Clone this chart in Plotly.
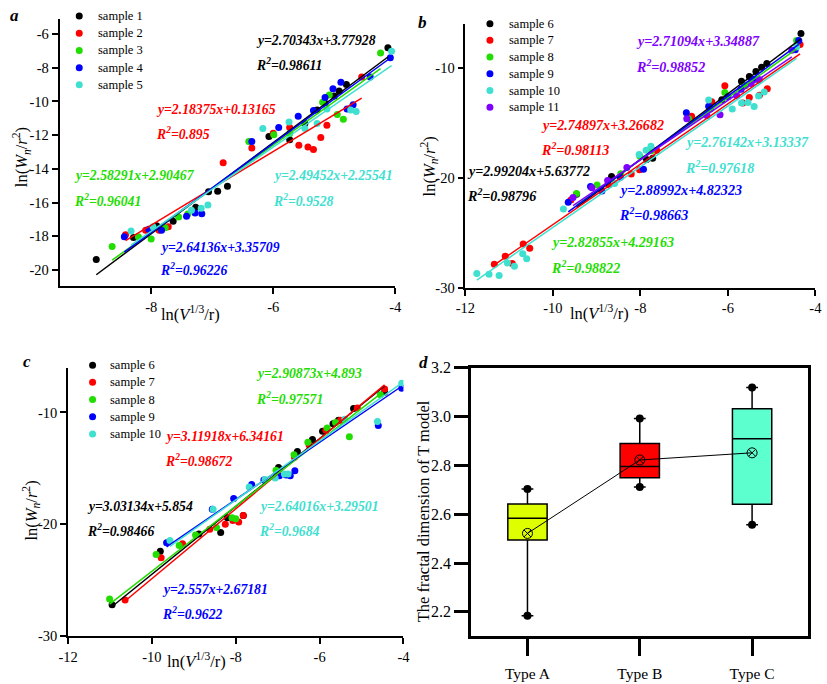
import plotly.graph_objects as go
import numpy as np

W, H = 827, 684
FONT = "Liberation Serif"


def px(x):
    return x / W


def py(y):
    return 1 - y / H


# ---------------- panel a data ----------------
a_names = ["sample 1", "sample 2", "sample 3", "sample 4", "sample 5"]
a_s1_x = [-8.90, -8.29, -7.91, -7.64, -7.27, -7.06, -6.91, -6.75, -6.07, -5.73, -5.48, -5.28, -5.15, -5.00, -4.92, -4.80, -4.12]
a_s1_y = [-19.38, -18.07, -17.38, -17.10, -16.27, -15.36, -15.32, -15.03, -12.08, -12.27, -11.31, -10.50, -10.10, -9.67, -9.38, -8.99, -6.81]
a_s2_x = [-8.42, -8.09, -7.87, -7.72, -6.82, -6.35, -6.00, -5.73, -5.58, -5.43, -5.34, -5.22, -5.12, -4.55]
a_s2_y = [-17.91, -17.64, -17.64, -17.43, -13.63, -12.76, -11.89, -11.54, -12.60, -12.70, -12.85, -12.14, -11.41, -8.55]
a_s3_x = [-8.64, -8.21, -8.00, -7.77, -7.55, -7.40, -6.40, -5.99, -5.73, -5.19, -5.08, -4.95, -4.85, -4.24]
a_s3_y = [-18.60, -18.03, -18.16, -17.49, -16.85, -16.68, -12.37, -11.98, -11.90, -10.05, -9.61, -10.77, -11.06, -7.12]
a_s4_x = [-8.44, -8.04, -7.83, -7.42, -7.28, -7.17, -6.35, -5.91, -5.59, -5.34, -5.15, -5.02, -4.89, -4.79, -4.69, -4.41, -4.08]
a_s4_y = [-18.03, -17.58, -17.64, -16.81, -16.62, -16.66, -12.37, -11.54, -10.88, -10.54, -9.76, -9.24, -8.86, -10.44, -10.19, -8.55, -7.41]
a_s5_x = [-8.33, -7.97, -7.34, -7.18, -7.07, -6.17, -5.74, -5.48, -5.28, -5.12, -4.73, -4.64, -4.06]
a_s5_y = [-17.68, -17.43, -16.46, -16.33, -16.14, -11.60, -11.21, -11.60, -11.31, -10.44, -10.50, -10.59, -7.02]
a_slopes = [2.70343, 2.18375, 2.58291, 2.64136, 2.49452]
a_intercepts = [3.77928, 0.13165, 2.90467, 3.35709, 2.25541]
a_r2 = [0.98611, 0.895, 0.96041, 0.96226, 0.9528]

# ---------------- panel b data ----------------
b_names = ["sample 6", "sample 7", "sample 8", "sample 9", "sample 10", "sample 11"]
b_s6_x = [-9.46, -8.66, -7.86, -7.72, -6.14, -5.69, -5.51, -5.36, -5.23, -5.11, -4.33]
b_s6_y = [-21.47, -19.85, -18.30, -18.20, -12.87, -11.19, -10.74, -10.30, -9.91, -9.56, -6.83]
b_s7_x = [-11.34, -11.09, -10.93, -10.68, -10.53, -9.59, -8.72, -8.21, -8.02, -7.63, -6.83, -6.37, -6.07, -5.66, -5.51, -5.28, -5.10, -4.35]
b_s7_y = [-27.84, -27.10, -27.78, -26.00, -26.39, -22.00, -20.60, -19.63, -19.24, -17.47, -14.36, -13.05, -11.60, -13.17, -12.67, -12.46, -11.87, -7.84]
b_s8_x = [-9.46, -8.99, -8.45, -8.01, -7.75, -6.90, -6.40, -6.07, -5.60, -5.30, -4.43]
b_s8_y = [-21.40, -20.62, -19.60, -18.00, -17.50, -14.60, -13.70, -12.20, -11.60, -11.10, -7.48]
b_s9_x = [-9.65, -9.14, -8.88, -8.46, -7.93, -6.95, -6.44, -6.00, -5.70, -5.40, -4.46, -4.38]
b_s9_y = [-22.20, -20.76, -21.17, -19.93, -19.19, -14.06, -13.45, -12.60, -11.90, -11.00, -8.31, -7.48]
b_s10_x = [-11.74, -11.46, -11.23, -11.04, -10.88, -10.69, -10.60, -9.76, -8.59, -8.03, -7.87, -7.76, -6.44, -5.90, -5.69, -5.54, -5.40, -5.30, -5.17, -4.43]
b_s10_y = [-28.67, -28.76, -28.87, -27.72, -28.01, -26.89, -27.33, -22.80, -20.50, -17.85, -17.47, -17.10, -12.90, -13.70, -13.17, -13.11, -13.47, -12.52, -12.16, -8.07]
b_s11_x = [-9.54, -9.11, -8.75, -8.31, -6.94, -6.48, -6.18, -5.80, -5.47, -5.28, -4.54]
b_s11_y = [-21.76, -20.87, -20.22, -19.04, -14.59, -14.30, -14.24, -12.50, -11.39, -11.04, -8.37]
b_slopes = [2.99204, 2.74897, 2.82855, 2.88992, 2.76142, 2.71094]
b_intercepts = [5.63772, 3.26682, 4.29163, 4.82323, 3.13337, 3.34887]
b_r2 = [0.98796, 0.98113, 0.98822, 0.98663, 0.97618, 0.98852]

# ---------------- panel c data ----------------
c_names = ["sample 6", "sample 7", "sample 8", "sample 9", "sample 10"]
c_s6_x = [-10.95, -9.80, -8.88, -8.36, -8.20, -7.82, -6.98, -6.53, -6.17, -5.93, -5.68, -5.55, -5.19, -4.45]
c_s6_y = [-27.19, -22.41, -20.87, -20.72, -19.42, -19.22, -14.93, -13.48, -12.41, -11.68, -11.01, -10.70, -9.65, -8.20]
c_s7_x = [-10.64, -9.78, -9.27, -8.62, -8.25, -8.07, -7.93, -7.82, -6.60, -6.25, -5.85, -5.50, -5.10, -4.45]
c_s7_y = [-26.75, -22.99, -21.74, -20.43, -20.00, -19.65, -19.80, -19.22, -14.00, -12.90, -11.60, -10.70, -9.60, -7.91]
c_s8_x = [-11.01, -9.90, -9.35, -8.96, -8.46, -8.09, -8.00, -7.04, -6.61, -6.28, -5.82, -5.62, -5.29, -4.55]
c_s8_y = [-26.67, -22.70, -21.88, -20.96, -20.29, -19.42, -19.51, -15.16, -13.77, -12.67, -11.39, -10.90, -12.17, -8.41]
c_s9_x = [-9.65, -8.56, -8.05, -7.62, -7.33, -6.96, -6.80, -6.70, -6.59, -4.60, -4.04]
c_s9_y = [-21.65, -18.64, -17.68, -16.43, -16.03, -15.65, -15.60, -15.65, -15.22, -11.16, -7.83]
c_s10_x = [-9.57, -8.54, -7.68, -7.30, -7.06, -6.84, -6.75, -5.40, -4.62, -4.04]
c_s10_y = [-21.45, -18.64, -16.67, -16.00, -15.86, -15.51, -15.50, -10.60, -10.81, -7.39]
c_slopes = [3.03134, 3.11918, 2.90873, 2.557, 2.64016]
c_intercepts = [5.854, 6.34161, 4.893, 2.67181, 3.29501]
c_r2 = [0.98466, 0.98672, 0.97571, 0.9622, 0.9684]

# ---------------- panel d data ----------------
d_types = ["Type A", "Type B", "Type C"]
d_values = [a_slopes, b_slopes, c_slopes]

scatter_ticks = [-30, -20, -10]
a_yticks = [-20, -18, -16, -14, -12, -10, -8, -6]
a_xticks = [-8, -6, -4]
bc_xticks = [-12, -10, -8, -6, -4]
d_yticks = [2.2, 2.4, 2.6, 2.8, 3.0, 3.2]

# ---------------- styles ----------------
COLORS5 = ["#000000", "#FF0000", "#22DD00", "#0000FF", "#40E0D0"]
COLORS6 = ["#000000", "#FF0000", "#22DD00", "#0000FF", "#40E0D0", "#8000FF"]
BOX_COLORS = ["#DDFF00", "#FF0000", "#5CFFCE"]

fig = go.Figure()


def add_panel(names, xs, ys, slopes, intercepts, colors, xa, ya):
    for n, x, y, c in zip(names, xs, ys, colors):
        fig.add_trace(go.Scatter(x=x, y=y, mode="markers", name=n,
                                 marker=dict(color=c, size=7),
                                 showlegend=False, xaxis=xa, yaxis=ya))
    for n, x, s, b, c in zip(names, xs, slopes, intercepts, colors):
        xr = np.array([min(x), max(x)])
        fig.add_trace(go.Scatter(x=xr, y=s * xr + b, mode="lines",
                                 name=n + " fit",
                                 line=dict(color=c, width=1.5),
                                 showlegend=False, hoverinfo="skip",
                                 xaxis=xa, yaxis=ya))


add_panel(a_names, [a_s1_x, a_s2_x, a_s3_x, a_s4_x, a_s5_x],
          [a_s1_y, a_s2_y, a_s3_y, a_s4_y, a_s5_y],
          a_slopes, a_intercepts, COLORS5, "x", "y")
add_panel(b_names, [b_s6_x, b_s7_x, b_s8_x, b_s9_x, b_s10_x, b_s11_x],
          [b_s6_y, b_s7_y, b_s8_y, b_s9_y, b_s10_y, b_s11_y],
          b_slopes, b_intercepts, COLORS6, "x2", "y2")
add_panel(c_names, [c_s6_x, c_s7_x, c_s8_x, c_s9_x, c_s10_x],
          [c_s6_y, c_s7_y, c_s8_y, c_s9_y, c_s10_y],
          c_slopes, c_intercepts, COLORS5, "x3", "y3")


# panel d: box statistics from the fitted slopes
def quartiles(v):
    s = sorted(v)
    n = len(s)
    if n % 2:
        lower, upper = s[:n // 2 + 1], s[n // 2:]
    else:
        lower, upper = s[:n // 2], s[n // 2:]
    return float(np.median(lower)), float(np.median(s)), float(np.median(upper))


d_min, d_max, d_mean = [], [], []
for t, v, col in zip(d_types, d_values, BOX_COLORS):
    q1, med, q3 = quartiles(v)
    d_min.append(min(v))
    d_max.append(max(v))
    d_mean.append(float(np.mean(v)))
    fig.add_trace(go.Box(x=[t], q1=[q1], median=[med], q3=[q3],
                         lowerfence=[min(v)], upperfence=[max(v)], name=t,
                         fillcolor=col, line=dict(color="black", width=1.5),
                         width=0.35, whiskerwidth=0.3, boxpoints=False,
                         showlegend=False, xaxis="x4", yaxis="y4"))
fig.add_trace(go.Scatter(x=d_types + d_types, y=d_min + d_max, mode="markers",
                         name="min / max",
                         marker=dict(color="black", size=8), showlegend=False,
                         xaxis="x4", yaxis="y4"))
fig.add_trace(go.Scatter(x=d_types, y=d_mean, mode="lines+markers", name="mean",
                         line=dict(color="black", width=1),
                         marker=dict(symbol="circle-x-open", size=10, color="black",
                                     line=dict(width=1)),
                         showlegend=False, xaxis="x4", yaxis="y4"))

# ---------------- layout ----------------
tickfont = dict(family=FONT, size=14.5, color="black")


def sc_axis(domain, rng, ticks, anchor):
    return dict(domain=domain, range=rng, tickvals=ticks,
                ticktext=[f"{t:g}" for t in ticks], showline=True,
                linecolor="black", linewidth=1.8, ticks="outside", ticklen=6,
                tickwidth=1.5, tickcolor="black", showgrid=False,
                zeroline=False, tickfont=tickfont, anchor=anchor)


layout = dict(
    width=W, height=H, margin=dict(l=0, r=0, t=0, b=0),
    paper_bgcolor="white", plot_bgcolor="white", boxmode="overlay",
    showlegend=False,
    font=dict(family=FONT, color="black"),
    xaxis=sc_axis([px(50.7), px(393.3)], [-9.5, -4], a_xticks, "y"),
    yaxis=sc_axis([py(285), py(11.7)], [-20.97, -5.13], a_yticks, "x"),
    xaxis2=sc_axis([px(465), px(822.3)], [-12, -4], bc_xticks, "y2"),
    yaxis2=sc_axis([py(286.7), py(16.7)], [-30, -6], scatter_ticks, "x2"),
    xaxis3=sc_axis([px(59.3), px(401.7)], [-12, -4], bc_xticks, "y3"),
    yaxis3=sc_axis([py(643.3), py(368.3)], [-30, -6], scatter_ticks, "x3"),
    xaxis4=dict(domain=[px(471), px(815)], type="category", range=[-0.5, 2.5],
                categoryorder="array", categoryarray=d_types,
                showline=True, mirror=True, linecolor="black", linewidth=3,
                ticks="outside", ticklen=17, tickwidth=3, tickcolor="black",
                ticklabelstandoff=4,
                showgrid=False, zeroline=False,
                tickfont=dict(family=FONT, size=15.5, color="black"), anchor="y4"),
    yaxis4=dict(domain=[py(643.3), py(368.3)], range=[2.1, 3.2],
                tickvals=d_yticks, ticktext=[f"{t:.1f}" for t in d_yticks],
                showline=True, mirror=True, linecolor="black", linewidth=3,
                ticks="outside", ticklen=14, tickwidth=3, tickcolor="black",
                showgrid=False, zeroline=False,
                tickfont=dict(family=FONT, size=16, color="black"), anchor="x4"),
)
fig.update_layout(**layout)

ann = []
shapes = []

# hand-placed legends (marker + label) for panels a, b, c
for names, colors, mx, tx, y0, dy in [
        (a_names, COLORS5, 70.7, 88.3, 8.3, 17.6),
        (b_names, COLORS6, 490, 507.7, 16, 17.14),
        (c_names, COLORS5, 84.3, 100, 365.7, 17.6)]:
    for i, (n, c) in enumerate(zip(names, colors)):
        yy = y0 + i * dy
        shapes.append(dict(type="circle", xref="paper", yref="paper",
                           xsizemode="pixel", ysizemode="pixel",
                           xanchor=px(mx), yanchor=py(yy),
                           x0=-3.5, x1=3.5, y0=-3.5, y1=3.5,
                           fillcolor=c, line=dict(width=0)))
        ann.append(dict(x=px(tx), y=py(yy), xref="paper", yref="paper",
                        xanchor="left", yanchor="middle", showarrow=False,
                        text=n, font=dict(family=FONT, size=12.5, color="black")))


def eq_labels(slopes, intercepts, r2s, colors, positions, size):
    for s, b, r, c, (x, y1, y2) in zip(slopes, intercepts, r2s, colors, positions):
        ann.append(dict(x=px(x), y=py(y1), xref="paper", yref="paper",
                        xanchor="left", yanchor="middle", showarrow=False,
                        xshift=-3,
                        text=f"<b><i>y={s}x+{b}</i></b>",
                        font=dict(family=FONT, size=size, color=c)))
        ann.append(dict(x=px(x), y=py(y2), xref="paper", yref="paper",
                        xanchor="left", yanchor="middle", showarrow=False,
                        xshift=-3,
                        text=f"<b><i>R<sup>2</sup>={r}</i></b>",
                        font=dict(family=FONT, size=size, color=c)))


eq_labels(a_slopes, a_intercepts, a_r2, COLORS5,
          [(252, 33, 57), (150, 104.3, 128), (66.7, 171.7, 196.7),
           (154, 245, 267.7), (269.3, 171.7, 196.7)], 13.7)
eq_labels(b_slopes, b_intercepts, b_r2, COLORS6,
          [(467.3, 166.7, 191.7), (543.3, 119.3, 144), (553.3, 240, 265),
           (622.3, 186, 210.7), (690, 137.3, 162.7), (640, 33.3, 59.3)], 14.1)
eq_labels(c_slopes, c_intercepts, c_r2, COLORS5,
          [(79.3, 510, 534), (159, 438.3, 463.3), (252.3, 374.3, 399.3),
           (156.7, 595, 619.3), (255, 510, 534)], 13.7)

# panel letters
for letter, x, y in [("a", 5, 8), ("b", 421, 15), ("c", 17, 362), ("d", 422, 363)]:
    ann.append(dict(x=px(x), y=py(y), xref="paper", yref="paper",
                    xanchor="center", yanchor="middle", showarrow=False,
                    text=f"<b><i>{letter}</i></b>",
                    font=dict(family=FONT, size=17, color="black")))

# axis titles
ytitle = "ln(<i>W</i><sub><i>n</i></sub>/<i>r</i><sup>2</sup>)"
xtitle = "ln(<i>V</i><sup>1/3</sup>/r)"
for text, x, y, ang in [(ytitle, 12, 153, -90), (ytitle, 428, 162, -90),
                        (ytitle, 21, 515, -90),
                        ("The fractal dimension of T model", 423, 515, -90),
                        (xtitle, 184, 313, 0), (xtitle, 602, 312, 0),
                        (xtitle, 190, 668, 0)]:
    ann.append(dict(x=px(x), y=py(y), xref="paper", yref="paper",
                    xanchor="center", yanchor="middle", showarrow=False,
                    text=text, textangle=ang,
                    font=dict(family=FONT, size=16.5, color="black")))

fig.update_layout(annotations=ann, shapes=shapes)
fig.write_html("out.html")
